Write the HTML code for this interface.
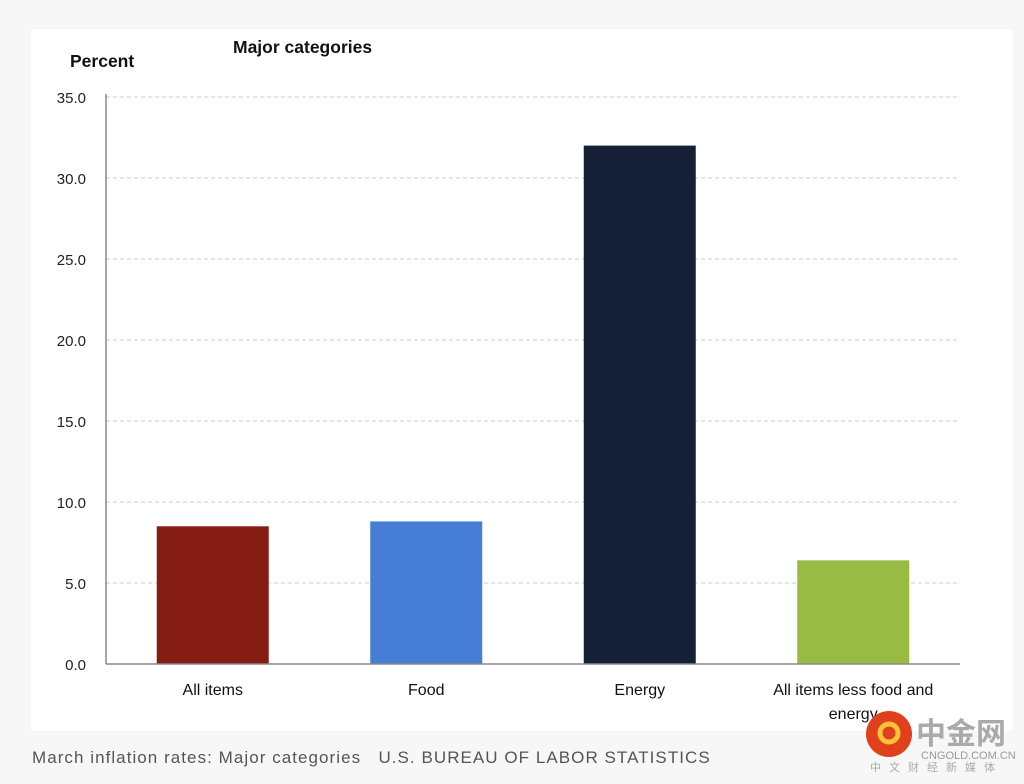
<!DOCTYPE html>
<html><head><meta charset="utf-8"><style>
body{margin:0;width:1024px;height:784px;background:#f7f7f7;position:relative;overflow:hidden;font-family:"Liberation Sans",sans-serif}
#card{position:absolute;left:31px;top:29px;width:982px;height:702px;background:#fff}
svg{position:absolute;left:0;top:0}
#cap{position:absolute;left:32px;top:748px;font-size:17px;letter-spacing:1.05px;color:#555;white-space:nowrap}
</style></head><body>
<div id="card"></div>
<svg id="chart" width="1024" height="784"></svg>
<div id="cap">March inflation rates: Major categories&nbsp;&nbsp;&nbsp;U.S. BUREAU OF LABOR STATISTICS</div>
<script>
const categories=["All items","Food","Energy","All items less food and|energy"];
const values=[8.5,8.8,32.0,6.4];
const ticks=[0,5,10,15,20,25,30,35];
const tickLabels=["0.0","5.0","10.0","15.0","20.0","25.0","30.0","35.0"];
const colors=["#851c14","#457ed4","#152036","#98bb43"];
const svg=document.getElementById('chart');const NS="http://www.w3.org/2000/svg";
function mk(t,a,p){const e=document.createElementNS(NS,t);for(const k in a)e.setAttribute(k,a[k]);(p||svg).appendChild(e);return e;}
const y0=664,y1=97,xL=106,xR=960;
const y=v=>y0-(v/35)*(y0-y1);
const band=(xR-xL)/categories.length;
const x=i=>xL+band*(i+0.5);
let t=mk('text',{x:70,y:67,'font-size':17.5,'font-weight':'bold',fill:'#111'});t.textContent="Percent";


t=mk('text',{x:233,y:53,'font-size':17.5,'font-weight':'bold',fill:'#111'});t.textContent="Major categories";


ticks.forEach((v,i)=>{
 if(v>0){const g=mk('line',{x1:xL,x2:xR,y1:y(v),y2:y(v),stroke:'#ccc','stroke-dasharray':'4,3'});
 
 }
 const l=mk('text',{x:86,y:y(v)+6,'font-size':15,'text-anchor':'end',fill:'#222'});l.textContent=tickLabels[i];
 
 
});
let a=mk('line',{x1:xL,x2:xL,y1:y1-3,y2:y0,stroke:'#888','stroke-width':1.5});


values.forEach((v,i)=>{
 const r=mk('rect',{x:x(i)-56,y:y(v),width:112,height:y0-y(v),fill:colors[i]});
 
 
 categories[i].split('|').forEach((s,j)=>{
  const l=mk('text',{x:x(i),y:695+j*24,'font-size':16,'text-anchor':'middle',fill:'#111'});l.textContent=s;
  
  
 });
});
a=mk('line',{x1:xL,x2:xR,y1:y0,y2:y0,stroke:'#888','stroke-width':1.5});


const w=mk('g',{});


mk('circle',{cx:889,cy:734,r:23,fill:'#e0401c'},w);
mk('circle',{cx:889,cy:733,r:9,fill:'none',stroke:'#f7c33a','stroke-width':5},w);
t=mk('text',{x:916,y:744,'font-size':30,'font-weight':'bold',fill:'#aaa','font-family':'"Noto Sans CJK SC",sans-serif'},w);t.textContent="中金网";
t=mk('text',{x:921,y:759,'font-size':11,fill:'#999'},w);t.textContent="CNGOLD.COM.CN";
t=mk('text',{x:870,y:771,'font-size':11,fill:'#aaa','letter-spacing':'8','font-family':'"Noto Sans CJK SC",sans-serif'},w);t.textContent="中文财经新媒体";
</script>
</body></html>
